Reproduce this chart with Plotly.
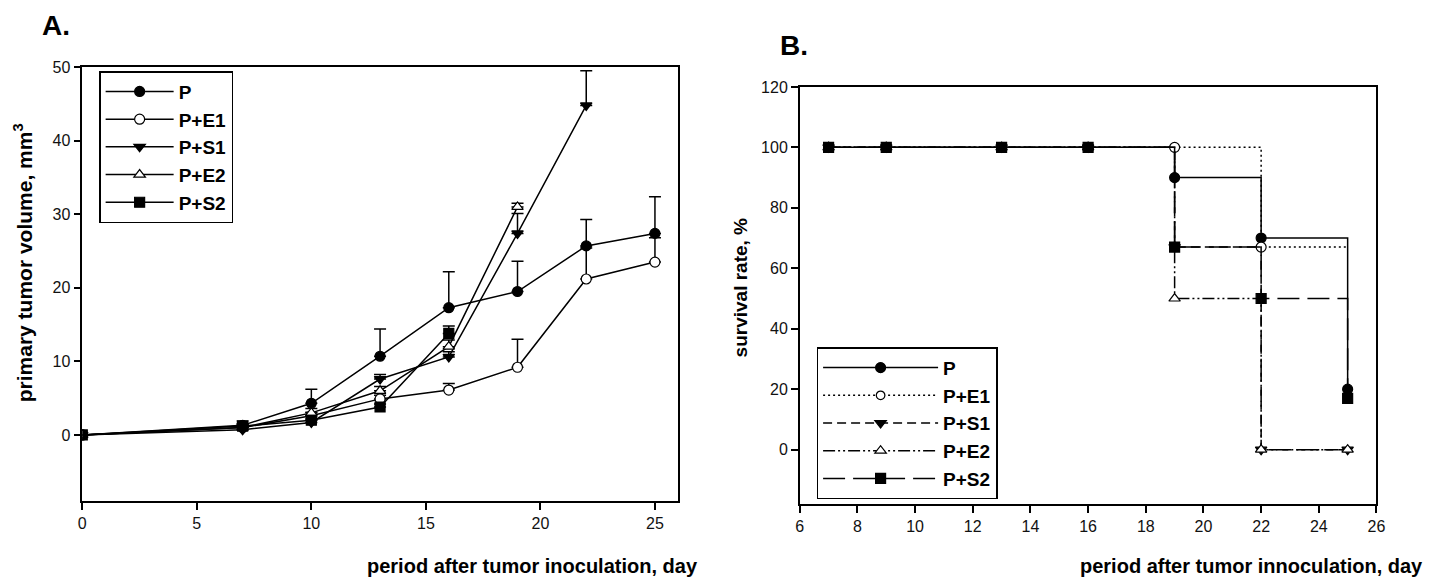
import plotly.graph_objects as go

# ---------------- data ----------------
days_a = [0, 7, 10, 13, 16, 19, 22, 25]
vol_p = [0, 1.3, 4.3, 10.7, 17.3, 19.5, 25.7, 27.4]
err_p = [0, 0.6, 1.9, 3.7, 4.9, 4.1, 3.6, 5.0]
vol_pe1 = [0, 1.0, 2.6, 4.9, 6.1, 9.2, 21.2, 23.5]
err_pe1 = [0, 0.4, 0.5, 0.5, 0.9, 3.8, 4.2, 3.3]
vol_ps1 = [0, 0.7, 1.7, 7.6, 10.6, 27.4, 44.8]
err_ps1 = [0, 0.5, 0.5, 0.6, 0.7, 2.7, 4.7]
vol_pe2 = [0, 1.0, 3.0, 6.0, 12.0, 31.0]
err_pe2 = [0, 0.5, 0.6, 0.6, 0.9, 0.5]
vol_ps2 = [0, 1.2, 2.0, 3.8, 13.8]
err_ps2 = [0, 0.4, 0.5, 0.4, 1.0]

days_b = [7, 9, 13, 16, 19, 22, 25]
surv_p = [100, 100, 100, 100, 90, 70, 20]
surv_pe1 = [100, 100, 100, 100, 100, 67, 67]
surv_ps1 = [100, 100, 100, 100, 67, 0, 0]
surv_pe2 = [100, 100, 100, 100, 50, 0, 0]
surv_ps2 = [100, 100, 100, 100, 67, 50, 17]

FONT = "Liberation Sans, Arial, sans-serif"
BLACK = "#000000"

mk = {
    "P": dict(symbol="circle", color=BLACK),
    "P+E1": dict(symbol="circle", color="white"),
    "P+S1": dict(symbol="triangle-down", color=BLACK),
    "P+E2": dict(symbol="triangle-up", color="white"),
    "P+S2": dict(symbol="square", color=BLACK),
}
dash_b = {
    "P": "solid",
    "P+E1": "2px,3px",
    "P+S1": "9px,5px",
    "P+E2": "12px,3px,2px,3px,2px,3px",
    "P+S2": "22px,8px",
}

fig = go.Figure()

series_a = [
    ("P", vol_p, err_p),
    ("P+E1", vol_pe1, err_pe1),
    ("P+S1", vol_ps1, err_ps1),
    ("P+E2", vol_pe2, err_pe2),
    ("P+S2", vol_ps2, err_ps2),
]
for name, vals, errs in series_a:
    m = mk[name]
    fig.add_trace(go.Scatter(
        x=days_a[:len(vals)], y=vals, name=name, mode="lines+markers",
        line=dict(color=BLACK, width=1.5),
        marker=dict(symbol=m["symbol"], size=10, color=m["color"], opacity=1,
                    line=dict(color=BLACK, width=1.2)),
        error_y=dict(type="data", symmetric=False, array=errs,
                     arrayminus=[0] * len(errs), color=BLACK,
                     thickness=1.5, width=6),
        xaxis="x", yaxis="y", legend="legend",
    ))

series_b = [
    ("P", surv_p),
    ("P+E1", surv_pe1),
    ("P+S1", surv_ps1),
    ("P+E2", surv_pe2),
    ("P+S2", surv_ps2),
]
for name, vals in series_b:
    m = mk[name]
    sizes = [10] * len(vals)
    if name == "P+E1":
        sizes[-1] = 0
    fig.add_trace(go.Scatter(
        x=days_b, y=vals, name=name, mode="lines+markers",
        line=dict(color=BLACK, width=1.5, dash=dash_b[name], shape="hv"),
        marker=dict(symbol=m["symbol"], size=sizes, color=m["color"], opacity=1,
                    line=dict(color=BLACK, width=1.2)),
        xaxis="x2", yaxis="y2", legend="legend2",
    ))

W, H = 1438, 582
def px(x):
    return x / W
def py(y):
    return (H - y) / H

axis_common = dict(
    showgrid=False, zeroline=False, showline=True, linecolor=BLACK,
    linewidth=1.5, mirror=True, ticks="outside", ticklen=7, tickwidth=1.5,
    tickcolor=BLACK, tickfont=dict(family=FONT, size=16, color="#111"),
)

legend_font = dict(family=FONT, size=19, color=BLACK, weight="bold")
fig.update_layout(
    width=W, height=H,
    margin=dict(l=0, r=0, t=0, b=0),
    paper_bgcolor="white", plot_bgcolor="white",
    font=dict(family=FONT, color=BLACK),
    xaxis=dict(domain=[px(79), px(680)], range=[0, 26], tickvals=[0, 5, 10, 15, 20, 25],
               anchor="y", **axis_common),
    yaxis=dict(domain=[py(500), py(60)], range=[-9, 50], tickvals=[0, 10, 20, 30, 40, 50],
               anchor="x", **axis_common),
    xaxis2=dict(domain=[px(803), px(1385)], range=[6, 26],
                tickvals=list(range(6, 27, 2)), anchor="y2", **axis_common),
    yaxis2=dict(domain=[py(503), py(80)], range=[-18, 120],
                tickvals=list(range(0, 121, 20)), anchor="x2", **axis_common),
    legend=dict(x=px(96), y=py(64), xanchor="left", yanchor="top",
                bgcolor="white", bordercolor=BLACK, borderwidth=1.5,
                font=legend_font, itemwidth=68, tracegroupgap=0),
    legend2=dict(x=px(820), y=py(344), xanchor="left", yanchor="top",
                 bgcolor="white", bordercolor=BLACK, borderwidth=1.5,
                 font=legend_font, itemwidth=115, tracegroupgap=0),
    showlegend=True,
)

title_font = dict(family=FONT, size=20, color=BLACK, weight="bold")
fig.add_annotation(text="A.", x=px(36), y=py(18), xref="paper", yref="paper",
                   xanchor="left", yanchor="middle", showarrow=False,
                   font=dict(family=FONT, size=28, color=BLACK, weight="bold"))
fig.add_annotation(text="B.", x=px(781), y=py(38), xref="paper", yref="paper",
                   xanchor="left", yanchor="middle", showarrow=False,
                   font=dict(family=FONT, size=28, color=BLACK, weight="bold"))
fig.add_annotation(text="period after tumor inoculation, day", x=px(702), y=py(566),
                   xref="paper", yref="paper", xanchor="right", yanchor="middle",
                   showarrow=False, font=title_font)
fig.add_annotation(text="period after tumor innoculation, day", x=px(1434), y=py(566),
                   xref="paper", yref="paper", xanchor="right", yanchor="middle",
                   showarrow=False, font=title_font)
fig.add_annotation(text="primary tumor volume, mm<sup>3</sup>", x=px(20), y=py(258),
                   xref="paper", yref="paper", xanchor="center", yanchor="middle",
                   textangle=-90, showarrow=False,
                   font=dict(family=FONT, size=21, color=BLACK, weight="bold"))
fig.add_annotation(text="survival rate, %", x=px(743), y=py(283),
                   xref="paper", yref="paper", xanchor="center", yanchor="middle",
                   textangle=-90, showarrow=False,
                   font=dict(family=FONT, size=19, color=BLACK, weight="bold"))

fig.write_html("out.html", config={"displayModeBar": False},
               post_script="document.body.style.margin='0px';")
